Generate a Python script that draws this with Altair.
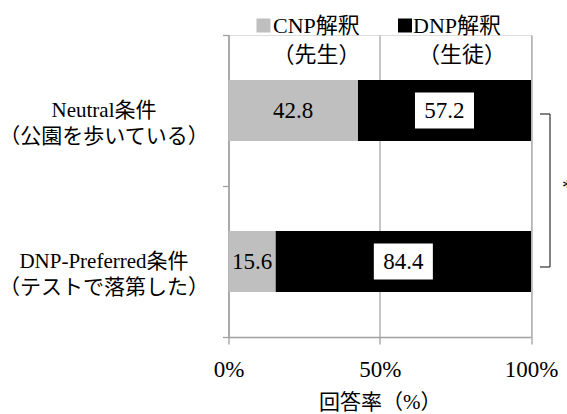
import altair as alt
import pandas as pd

# ---- data ----
conditions = ["Neutral", "DNP-Preferred"]
cond_line1 = ["Neutral条件", "DNP-Preferred条件"]
cond_line2 = ["（公園を歩いている）", "（テストで落第した）"]
series = ["CNP", "DNP"]
series_line1 = ["CNP解釈", "DNP解釈"]
series_line2 = ["（先生）", "（生徒）"]
cnp_rate = [42.8, 15.6]
dnp_rate = [57.2, 84.4]
x_ticks = [0, 50, 100]
x_title = "回答率（%）"
sig_mark = "*"

# ---- style / layout ----
FONT = "Liberation Serif, 'Noto Sans CJK JP', serif"
W, H = 302.5, 302
LEFT, TOP = 228.5, 35
PAD = {"left": LEFT, "top": TOP, "right": 567 - LEFT - W, "bottom": 414 - TOP - H}
GREY = "#bfbfbf"
AXIS_GREY = "#a0a0a0"
GRID_GREY = "#8c8c8c"
BOX_PATH = "M-1.64,-1H1.64V1H-1.64Z"

rows = []
for l1, l2, a, b in zip(cond_line1, cond_line2, cnp_rate, dnp_rate):
    label = l1 + "\n" + l2
    rows.append({"condition": label, "series": series[0], "rate": a})
    rows.append({"condition": label, "series": series[1], "rate": b})
df = pd.DataFrame(rows)
y_order = [l1 + "\n" + l2 for l1, l2 in zip(cond_line1, cond_line2)]

legend_df = pd.DataFrame({"series": series, "line1": series_line1, "line2": series_line2})

x_scale = alt.Scale(domain=[0, 100], nice=False, zero=True)
color_scale = alt.Scale(domain=series, range=[GREY, "#000000"])

x_axis = alt.Axis(
    values=x_ticks, labelExpr="datum.value + '%'", title=x_title,
    grid=True, gridColor=GRID_GREY, gridWidth=1,
    domainColor=AXIS_GREY, domainWidth=1.3, tickColor=AXIS_GREY, tickWidth=1.3, tickSize=7,
    labelFont=FONT, labelFontSize=23, labelColor="black", labelFlush=False, labelOverlap=False,
    labelBaseline="middle", labelPadding=25,
    titleFont=FONT, titleFontSize=21, titleFontWeight="normal", titleColor="black",
    titleX=W / 2, titleY=65, titleBaseline="middle", titleAlign="center",
)
y_axis = alt.Axis(
    title=None, labelExpr="split(datum.label, '\\n')",
    labelAlign="center", labelBaseline="middle", labelPadding=119, labelLimit=400,
    labelFont=FONT, labelFontSize=21, labelLineHeight=26, labelColor="black",
    tickBand="extent", tickSize=6, tickColor=AXIS_GREY, tickWidth=1.3,
    domainColor=AXIS_GREY, domainWidth=1.3, grid=False,
)

y_enc = alt.Y("condition:N", sort=y_order, axis=y_axis,
              scale=alt.Scale(paddingInner=0, paddingOuter=0))

base = alt.Chart(df)

bars = base.mark_bar(size=61).encode(
    x=alt.X("rate:Q", stack="zero", scale=x_scale, axis=x_axis),
    y=y_enc,
    color=alt.Color("series:N", scale=color_scale, legend=None),
    order=alt.Order("series:N"),
)

stacked = base.transform_stack(
    stack="rate", groupby=["condition"], as_=["r0", "r1"],
    sort=[alt.SortField("series", order="ascending")],
).transform_calculate(mid="(datum.r0 + datum.r1) / 2")

boxes = stacked.transform_filter(alt.datum.series == series[1]).mark_point(
    shape=BOX_PATH, size=1296, filled=True, opacity=1, strokeWidth=0
).encode(
    x=alt.X("mid:Q", scale=x_scale, axis=x_axis),
    y=y_enc,
    color=alt.value("white"),
)

values = stacked.mark_text(font=FONT, fontSize=23, baseline="middle", align="center",
                           color="black").encode(
    x=alt.X("mid:Q", scale=x_scale, axis=x_axis),
    y=y_enc,
    text=alt.Text("rate:Q", format=".1f"),
)

# legend drawn above the plot
LEG_SQ_X = [35, 176.5]
LEG_T1_X = [44.5, 184.5]
LEG_T2_X = [88, 233.5]
LEG_Y1, LEG_Y2 = -9, 20
legend_layers = []
for i, s in enumerate(series):
    ld = alt.Chart(legend_df).transform_filter(alt.datum.series == s)
    legend_layers.append(ld.mark_square(size=196, opacity=1, strokeWidth=0).encode(
        x=alt.value(LEG_SQ_X[i]), y=alt.value(LEG_Y1 - 0.5),
        color=alt.Color("series:N", scale=color_scale, legend=None)))
    legend_layers.append(ld.mark_text(font=FONT, fontSize=22, align="left", baseline="middle",
                                      color="black").encode(
        x=alt.value(LEG_T1_X[i]), y=alt.value(LEG_Y1), text="line1:N"))
    legend_layers.append(ld.mark_text(font=FONT, fontSize=22, align="center", baseline="middle",
                                      color="black").encode(
        x=alt.value(LEG_T2_X[i]), y=alt.value(LEG_Y2), text="line2:N"))

# significance bracket between the two conditions
sig_df = pd.DataFrame({"mark": [sig_mark]})
sig = alt.Chart(sig_df)
BR_X0, BR_X1, BR_Y0, BR_Y1 = 311.5, 321.5, 79, 232
bracket = [
    sig.mark_rule(color="#404040", strokeWidth=1.3).encode(
        x=alt.value(BR_X1), y=alt.value(BR_Y0), y2=alt.value(BR_Y1)),
    sig.mark_rule(color="#404040", strokeWidth=1.3).encode(
        x=alt.value(BR_X0), x2=alt.value(BR_X1), y=alt.value(BR_Y0)),
    sig.mark_rule(color="#404040", strokeWidth=1.3).encode(
        x=alt.value(BR_X0), x2=alt.value(BR_X1), y=alt.value(BR_Y1)),
    sig.mark_text(font=FONT, fontSize=22, align="center", baseline="middle",
                  color="black").encode(x=alt.value(339), y=alt.value(152), text="mark:N"),
]

chart = alt.layer(bars, boxes, values, *legend_layers, *bracket).properties(
    width=W, height=H, padding=PAD,
    autosize=alt.AutoSizeParams(type="none"),
).configure_view(stroke=None).configure(background="white")

chart.save("out.html", embed_options={"renderer": "svg", "actions": False})
